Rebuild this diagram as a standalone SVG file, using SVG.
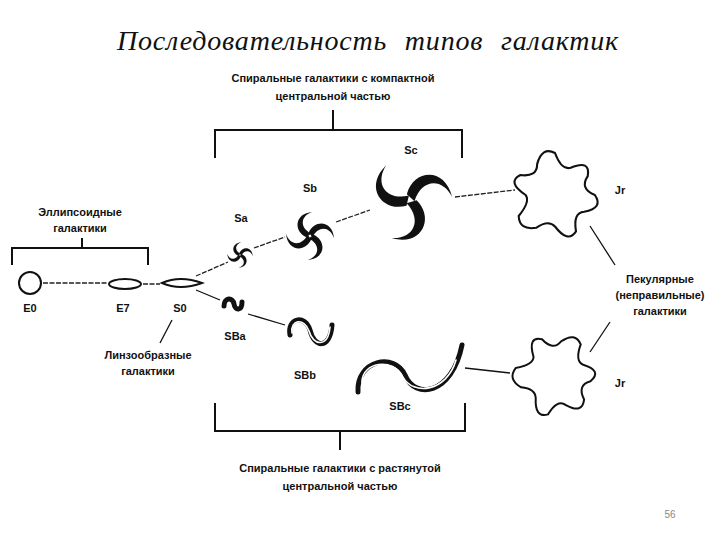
<svg xmlns="http://www.w3.org/2000/svg" xmlns:xlink="http://www.w3.org/1999/xlink" width="720" height="540" viewBox="0 0 720 540">
<style>
.t{font-family:"Liberation Sans",Arial,sans-serif;font-size:11px;font-weight:bold;fill:#111;text-anchor:middle}
.ln{stroke:#111;stroke-width:1.3;fill:none}
.br{stroke:#111;stroke-width:2;fill:none}
.ds{stroke:#222;stroke-width:1.3;fill:none;stroke-dasharray:5 1.5}
.arm{fill:#111}
.sb{fill:none;stroke:#111;stroke-width:5;stroke-linecap:round}
.sbw{fill:none;stroke:#fff;stroke-width:1.6;stroke-linecap:round}
.blob{fill:#fff;stroke:#111;stroke-width:2}
</style>
<defs>
<path id="arm" d="M-2,-6 C8,-28 38,-26 40,4 C34,-16 14,-18 4,2 Z"/>
<path id="blob" d="M38,0 Q46.4,12.4 27.7,16 Q17,17 20,34.6 Q12.4,46.4 0,30 Q-6.2,23.2 -18,31.2 Q-33.9,33.9 -34.6,20 Q-23.2,6.2 -28,0 Q-46.4,-12.4 -32.9,-19 Q-17,-17 -17,-29.4 Q-12.4,-46.4 0,-40 Q6.2,-23.2 15,-26 Q33.9,-33.9 31.2,-18 Q23.2,-6.2 38,0 Z"/>
</defs>
<rect width="720" height="540" fill="#fff"/>
<text x="368" y="50" style="font-family:'Liberation Serif','Times New Roman',serif;font-style:italic;font-size:28px;letter-spacing:0.8px;word-spacing:10px;fill:#111;text-anchor:middle">Последовательность типов галактик</text>

<g id="connectors">
<path class="br" d="M333,110 V130 M215,158 V130 H462 V158"/>
<path class="br" d="M82,238 V248 M12,265 V248 H148 V265"/>
<path class="br" d="M340,450 V431 M215,403 V431 H465 V403"/>
<path class="ds" d="M43,283 H108 M143,284 H160"/>
<path class="ds" d="M196,276 L228,262 M254,248 L285,237 M336,222 L370,210 M455,197 L515,190"/>
<path class="ln" d="M196,290 L220,300 M248,314 L285,325 M465,368 L510,373"/>
<path class="ln" d="M172,320 L160,343 M615,265 L590,226 M610,322 L590,352"/>
</g>

<g id="labels">
<text class="t" x="333" y="82">Спиральные галактики с компактной</text>
<text class="t" x="333" y="100">центральной частью</text>
<text class="t" x="80" y="216">Эллипсоидные</text>
<text class="t" x="80" y="232">галактики</text>
<text class="t" x="148" y="359">Линзообразные</text>
<text class="t" x="148" y="375">галактики</text>
<text class="t" x="660" y="283">Пекулярные</text>
<text class="t" x="660" y="299">(неправильные)</text>
<text class="t" x="660" y="315">галактики</text>
<text class="t" x="340" y="472">Спиральные галактики с растянутой</text>
<text class="t" x="340" y="490">центральной частью</text>
<text x="670" y="518" style="font-family:'Liberation Sans',Arial,sans-serif;font-size:10px;fill:#888;text-anchor:middle">56</text>
</g>

<g id="E0"><circle cx="30" cy="283" r="11" class="br"/><text class="t" x="30" y="312">E0</text></g>
<g id="E7"><ellipse cx="125" cy="284" rx="16" ry="5" class="br"/><text class="t" x="123" y="312">E7</text></g>
<g id="S0"><path d="M162,283 Q180,275 202,283 Q180,291 162,283 Z" class="br" stroke-width="1.8"/><text class="t" x="180" y="312">S0</text></g>

<g id="Sa"><text class="t" x="241" y="222">Sa</text>
<g transform="translate(240,255) scale(0.32)"><use href="#arm" class="arm"/><use href="#arm" class="arm" transform="rotate(90)"/><use href="#arm" class="arm" transform="rotate(180)"/><use href="#arm" class="arm" transform="rotate(270)"/></g></g>
<g id="Sb"><text class="t" x="310" y="192">Sb</text>
<g transform="translate(310,236) scale(0.6)"><use href="#arm" class="arm"/><use href="#arm" class="arm" transform="rotate(90)"/><use href="#arm" class="arm" transform="rotate(180)"/><use href="#arm" class="arm" transform="rotate(270)"/></g></g>
<g id="Sc"><text class="t" x="411" y="154">Sc</text>
<g transform="translate(410,200) scale(1.05) rotate(-10)"><use href="#arm" class="arm"/><use href="#arm" class="arm" transform="rotate(120)"/><use href="#arm" class="arm" transform="rotate(240)"/></g></g>

<g id="SBa"><text class="t" x="235" y="340">SBa</text>
<path class="sb" d="M224,306 C224,297 233,297 234,304 C235,311 242,311 242,302" stroke-width="3.5"/></g>
<g id="SBb"><text class="t" x="305" y="379">SBb</text>
<path class="sb" d="M290,335 C287,318 305,314 310,330 C314,348 330,350 332,325"/><path class="sbw" d="M292,333 C290,320 304,317 309,331 C313,346 328,348 330,327"/></g>
<g id="SBc"><text class="t" x="400" y="410">SBc</text>
<path class="sb" d="M358,392 C356,360 395,352 405,375 C415,400 452,395 462,345"/><path class="sbw" d="M362,382 C362,362 393,357 403,377 C413,396 447,392 456,360"/></g>

<g id="Jr1"><text class="t" x="620" y="194">Jr</text><use href="#blob" class="blob" transform="translate(555,195) scale(1.05)"/></g>
<g id="Jr2"><text class="t" x="620" y="387">Jr</text><use href="#blob" class="blob" transform="translate(555,375) rotate(40) scale(1.0)"/></g>
</svg>
